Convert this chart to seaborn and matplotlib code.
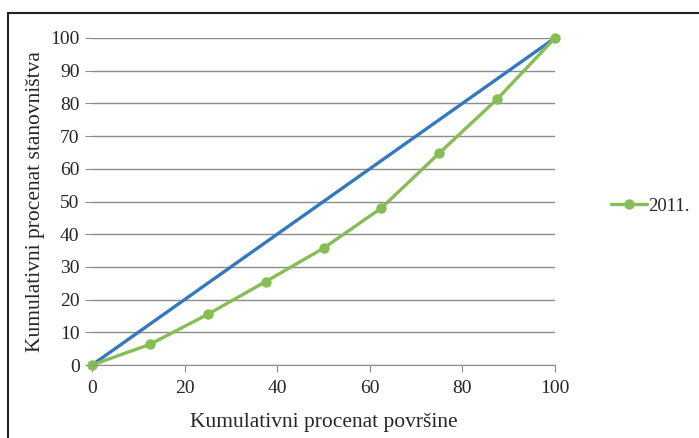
import pandas as pd
import matplotlib.pyplot as plt
import seaborn as sns
from matplotlib.patches import Rectangle

# data
povrsina = [0, 12.5, 25, 37.5, 50, 62.5, 75, 87.5, 100]
stanovnistvo_2011 = [0, 6.3, 15.5, 25.5, 35.7, 48.0, 64.8, 81.3, 100]
jednakost_x = [0, 100]
jednakost_y = [0, 100]

sns.set_style('white')
plt.rcParams['font.family'] = ['Liberation Serif', 'DejaVu Serif']

df = pd.DataFrame({'x': povrsina, 'y': stanovnistvo_2011})
df_eq = pd.DataFrame({'x': jednakost_x, 'y': jednakost_y})

fig = plt.figure(figsize=(6.99, 4.38), dpi=100)
ax = fig.add_axes([92 / 699, 1 - 365 / 438, (555 - 92) / 699, (365 - 38) / 438])

sns.lineplot(data=df_eq, x='x', y='y', ax=ax, color='#3478bd', linewidth=2.4,
             legend=False)
sns.lineplot(data=df, x='x', y='y', ax=ax, color='#86bd55', linewidth=2.4,
             marker='o', markersize=7.5, markeredgewidth=0, label='2011.')
for ln in ax.lines:
    ln.set_clip_on(False)

ax.set_xlim(0, 100)
ax.set_ylim(0, 100)
ax.set_xticks(range(0, 101, 20))
ax.set_yticks(range(0, 101, 10))
ax.grid(axis='y', color='#8c8c8c', linewidth=1)
ax.set_axisbelow(True)
for s in ['top', 'right', 'left']:
    ax.spines[s].set_visible(False)
ax.spines['bottom'].set_color('#8c8c8c')
ax.tick_params(axis='x', length=5, color='#8c8c8c', labelsize=14, pad=6,
               bottom=True)
ax.tick_params(axis='y', length=5, color='#8c8c8c', labelsize=14, pad=4,
               left=True)

ax.set_xlabel('Kumulativni procenat površine', fontsize=15.5, labelpad=11)
ax.set_ylabel('Kumulativni procenat stanovništva', fontsize=15.5, labelpad=4)

leg = ax.legend(loc='center left', bbox_to_anchor=(1.105, 0.485), frameon=False,
                fontsize=13.5, handlelength=1.9, handletextpad=0.1,
                borderaxespad=0)

# outer frame (cropped at right and bottom)
fig.add_artist(Rectangle((8 / 699, -0.2), 1.2, 1.2 - 13 / 438,
                         transform=fig.transFigure, fill=False,
                         edgecolor='#222222', linewidth=1.5))

fig.savefig('out.png', dpi=100)
